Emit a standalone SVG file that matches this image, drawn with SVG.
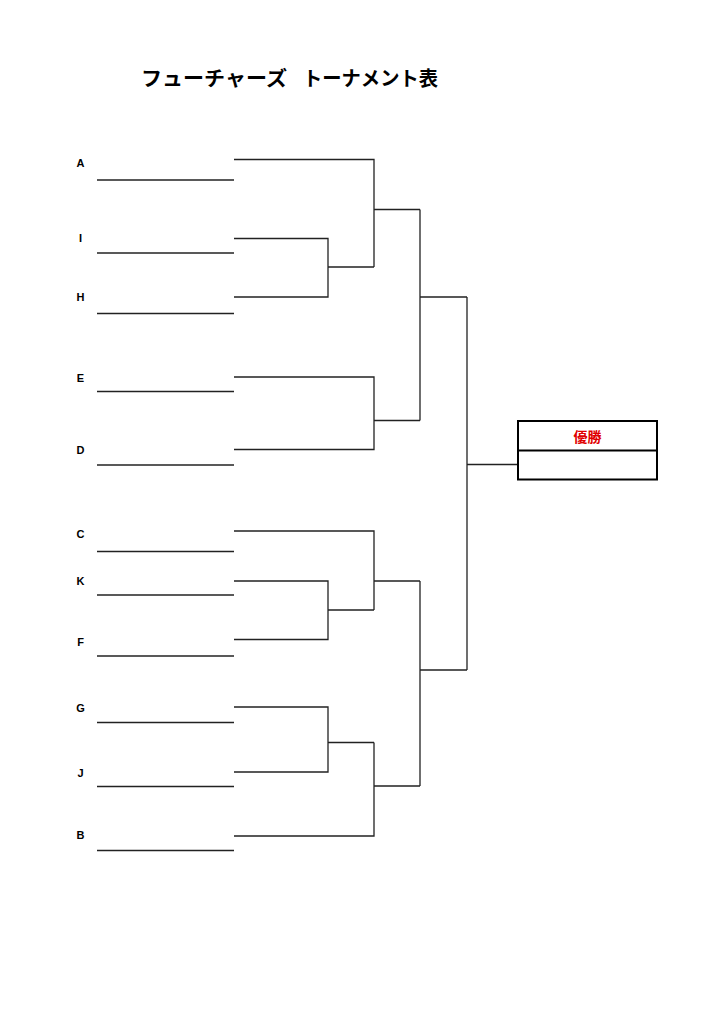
<svg xmlns="http://www.w3.org/2000/svg" width="724" height="1024" viewBox="0 0 724 1024">
<style>
.t{font-family:"Noto Sans CJK JP","Noto Sans CJK SC",sans-serif;font-weight:bold;fill:#000;font-size:20px}
.lbl{font-family:"Liberation Sans",Arial,sans-serif;font-weight:bold;font-size:11px;fill:#000;text-anchor:middle}
.ul{stroke:#222;stroke-width:1.5;fill:none}
.br{stroke:#222;stroke-width:1.3;fill:none}
</style>
<rect width="724" height="1024" fill="#fff"/>
<g id="title">
<text class="t" x="141" y="86" textLength="146" lengthAdjust="spacingAndGlyphs">フューチャーズ</text>
<text class="t" x="303" y="86" textLength="135" lengthAdjust="spacingAndGlyphs">トーナメント表</text>
</g>
<g id="A"><text class="lbl" x="80.5" y="167">A</text><line class="ul" x1="97" y1="180" x2="234" y2="180"/></g>
<g id="I"><text class="lbl" x="80.5" y="242">I</text><line class="ul" x1="97" y1="253" x2="234" y2="253"/></g>
<g id="H"><text class="lbl" x="80.5" y="301">H</text><line class="ul" x1="97" y1="313.5" x2="234" y2="313.5"/></g>
<g id="E"><text class="lbl" x="80.5" y="382">E</text><line class="ul" x1="97" y1="391.5" x2="234" y2="391.5"/></g>
<g id="D"><text class="lbl" x="80.5" y="454">D</text><line class="ul" x1="97" y1="465" x2="234" y2="465"/></g>
<g id="C"><text class="lbl" x="80.5" y="538">C</text><line class="ul" x1="97" y1="551.5" x2="234" y2="551.5"/></g>
<g id="K"><text class="lbl" x="80.5" y="585">K</text><line class="ul" x1="97" y1="595" x2="234" y2="595"/></g>
<g id="F"><text class="lbl" x="80.5" y="646">F</text><line class="ul" x1="97" y1="656" x2="234" y2="656"/></g>
<g id="G"><text class="lbl" x="80.5" y="712">G</text><line class="ul" x1="97" y1="722.5" x2="234" y2="722.5"/></g>
<g id="J"><text class="lbl" x="80.5" y="777">J</text><line class="ul" x1="97" y1="786.5" x2="234" y2="786.5"/></g>
<g id="B"><text class="lbl" x="80.5" y="839">B</text><line class="ul" x1="97" y1="850.5" x2="234" y2="850.5"/></g>
<g id="connectors">
<path class="br" d="M234 238.5H328V297H234M328 267H374"/>
<path class="br" d="M234 159.5H374V267M374 209.5H420"/>
<path class="br" d="M234 377H374V449.5H234M374 420.5H420"/>
<path class="br" d="M420 209.5V420.5M420 297H467"/>
<path class="br" d="M234 581H328V639.5H234M328 610H374"/>
<path class="br" d="M234 531H374V610M374 581H420"/>
<path class="br" d="M234 707H328V772H234M328 742.5H374"/>
<path class="br" d="M374 742.5V836H234M374 786H420"/>
<path class="br" d="M420 581V786M420 670H467"/>
<path class="br" d="M467 297V670M467 464.5H518"/>
</g>
<g id="champion">
<rect x="518" y="421" width="139" height="58.5" fill="#fff" stroke="#000" stroke-width="2"/>
<line x1="518" y1="450.5" x2="657" y2="450.5" stroke="#000" stroke-width="2"/>
<text x="587.5" y="442" font-family="Noto Sans CJK JP,sans-serif" font-weight="bold" font-size="14" fill="#e00000" text-anchor="middle">優勝</text>
</g>
</svg>
